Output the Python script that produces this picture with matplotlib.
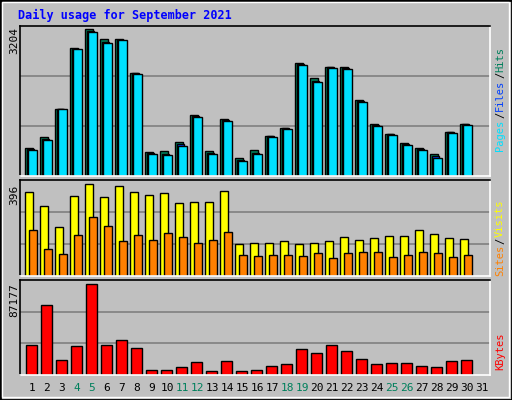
import matplotlib
matplotlib.use("Agg")
import matplotlib.pyplot as plt
import numpy as np
from matplotlib.patches import Rectangle

days = list(range(1, 32))
hits = [618, 857, 1468, 2790, 3204, 2986, 2986, 2252, 530, 545, 748, 1337, 552, 1250, 400,
        574, 879, 1053, 2456, 2143, 2383, 2383, 1649, 1141, 923, 727, 618, 487, 966, 1141, 0]
files = [590, 800, 1468, 2775, 3160, 2920, 2975, 2240, 500, 490, 690, 1300, 500, 1220, 350,
         500, 865, 1040, 2440, 2080, 2370, 2350, 1630, 1110, 910, 700, 590, 430, 955, 1130, 0]
pages = [574, 792, 1468, 2768, 3138, 2899, 2964, 2230, 487, 465, 661, 1293, 487, 1206, 334,
         487, 857, 1032, 2427, 2056, 2361, 2339, 1620, 1097, 901, 683, 574, 400, 944, 1119, 0]
visits = [362, 301, 211, 344, 396, 340, 387, 362, 349, 357, 314, 319, 319, 366, 138,
          142, 142, 151, 138, 142, 151, 168, 155, 164, 172, 172, 198, 181, 164, 159, 0]
sites = [198, 116, 95, 177, 254, 215, 151, 177, 155, 185, 168, 142, 155, 189, 90,
         86, 90, 90, 86, 99, 77, 99, 103, 103, 82, 90, 103, 99, 82, 90, 0]
kbytes = [28740, 67060, 14370, 27780, 87177, 28740, 33530, 25860, 4790, 4790, 7660, 12450, 3830, 13410, 3830,
          4790, 8620, 10540, 24910, 21070, 28740, 22990, 15330, 10540, 11490, 11490, 8620, 7660, 13410, 14370, 0]
weekend = [4, 5, 11, 12, 18, 19, 25, 26]
title = "Daily usage for September 2021"

W, H = 512, 400
fig = plt.figure(figsize=(W/100, H/100), dpi=100)
fig.patch.set_facecolor("#c0c0c0")
mono = "DejaVu Sans Mono"

def ax_at(x0, y0, x1, y1):
    return fig.add_axes([x0/W, 1 - y1/H, (x1-x0)/W, (y1-y0)/H])

def style(ax, ymax):
    ax.set_facecolor("#c0c0c0")
    ax.set_xlim(0.5 - 5/15, 0.5 + (490-25)/15)
    ax.set_ylim(0, ymax)
    for y in (ymax/3, 2*ymax/3):
        ax.axhline(y, color="#808080", lw=1.2, zorder=0)
    ax.set_xticks([]); ax.set_yticks([])
    for s in ax.spines.values():
        s.set_color("black"); s.set_linewidth(1.2)
    ax.spines["right"].set_color("white"); ax.spines["bottom"].set_color("white")

d = np.array(days, dtype=float)
left = d - 0.5

ax1 = ax_at(20, 26, 490, 176)
style(ax1, 3270)
for vals, off, w, col in [(hits, 0.0, 0.5, "#00805c"), (files, 0.13, 0.47, "#0040ff"), (pages, 0.23, 0.57, "#00e0ff")]:
    v = np.array(vals); m = v > 0
    ax1.bar(left[m] + off, v[m], width=w, align="edge", color=col, edgecolor="black", lw=1, zorder=2)

ax2 = ax_at(20, 180, 490, 276)
style(ax2, 414)
for vals, off, w, col in [(visits, 0.0, 0.55, "#ffff00"), (sites, 0.27, 0.51, "#ff8000")]:
    v = np.array(vals); m = v > 0
    ax2.bar(left[m] + off, v[m], width=w, align="edge", color=col, edgecolor="black", lw=1, zorder=2)

ax3 = ax_at(20, 280, 490, 375)
style(ax3, 91300)
v = np.array(kbytes); m = v > 0
ax3.bar(left[m] + 0.07, v[m], width=0.71, align="edge", color="#ff0000", edgecolor="black", lw=1, zorder=2)

for dd in days:
    x = (25 + 15*(dd-1) + 7) / W
    fig.text(x, 1 - 388/H, str(dd), ha="center", va="center", family=mono, fontsize=8,
             color="#00805c" if dd in weekend else "black")

fig.text(18/W, 1 - 15/H, title, ha="left", va="center", family=mono, fontsize=8.5,
         fontweight="bold", color="#0000ff")
for y, t in [(40, "3204"), (195, "396"), (300, "87177")]:
    fig.text(14/W, 1 - y/H, t, rotation=90, ha="center", va="center", family=mono, fontsize=8)

FS = 7.5
CH = 0.602 * FS * 100 / 72 + 0.3

def right_label(yc, parts):
    total = sum(len(p[0]) for p in parts)
    y = yc + total*CH/2
    for txt, col in parts:
        fig.text(500/W, 1 - y/H, txt.replace(" ", "\u00a0"), rotation=90, ha="center", va="bottom",
                 family=mono, fontsize=FS, color=col)
        y -= len(txt)*CH

right_label(98, [("Pages", "#00e0ff"), ("/", "black"), ("Files", "#0040ff"), ("/", "black"), ("Hits", "#00805c")])
right_label(237, [("Sites", "#ff8000"), ("/", "black"), ("Visits", "#ffff00")])
right_label(350, [("KBytes", "#ff0000")])

fig.patches.append(Rectangle((0, 0), 1, 1, transform=fig.transFigure, fill=False, ec="black", lw=2))
fig.patches.append(Rectangle((2/W, 3/H), 1-5/W, 1-5/H, transform=fig.transFigure, fill=False, ec="white", lw=1))

fig.savefig("out.png", dpi=100, facecolor=fig.get_facecolor())
